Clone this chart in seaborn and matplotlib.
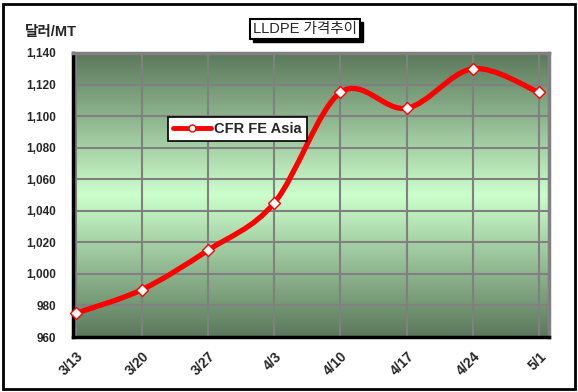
import numpy as np
import pandas as pd
import matplotlib
matplotlib.use("Agg")
import matplotlib.pyplot as plt
from matplotlib.path import Path
from matplotlib.patches import PathPatch, Rectangle
from matplotlib.lines import Line2D
from matplotlib.colors import LinearSegmentedColormap
import seaborn as sns

# 데이터
dates = ['3/13', '3/20', '3/27', '4/3', '4/10', '4/17', '4/24', '5/1']
prices = [975, 990, 1015, 1045, 1115, 1105, 1130, 1115]
series_name = 'CFR FE Asia'

df = pd.DataFrame({'pos': np.arange(len(dates)), 'date': dates, 'price': prices})

sns.set_theme(style='white')
plt.rcParams['font.family'] = ['Liberation Sans', 'Noto Sans CJK KR']

fig = plt.figure(figsize=(5.78, 3.92), dpi=100)
ax = fig.add_axes([73 / 578, 1 - 337 / 392, 476 / 578, 284 / 392])

# 배경 그라데이션 (위/아래 어둡고 가운데 밝게)
cmap = LinearSegmentedColormap.from_list('bg', ['#5b785b', '#ccffcc', '#5b785b'])
grad = np.linspace(0, 1, 256).reshape(-1, 1)
ax.imshow(grad, cmap=cmap, aspect='auto', extent=[0, 1, 0, 1],
          transform=ax.transAxes, zorder=0)

# 부드러운 선 (Catmull-Rom -> Bezier)
pts = df[['pos', 'price']].to_numpy(dtype=float)
ext = np.vstack([pts[0], pts, pts[-1]])
verts = [tuple(pts[0])]
codes = [Path.MOVETO]
for i in range(len(pts) - 1):
    p0, p1, p2, p3 = ext[i], ext[i + 1], ext[i + 2], ext[i + 3]
    c1 = p1 + (p2 - p0) / 6
    c2 = p2 - (p3 - p1) / 6
    verts += [tuple(c1), tuple(c2), tuple(p2)]
    codes += [Path.CURVE4] * 3
ax.add_patch(PathPatch(Path(verts, codes), fc='none', ec='#ff0000', lw=3.8,
                       zorder=3, capstyle='round', joinstyle='round'))

sns.lineplot(data=df, x='pos', y='price', ax=ax, linestyle='none', marker='D',
             markersize=6, markerfacecolor='white', markeredgecolor='#ff0000',
             markeredgewidth=1, zorder=4, clip_on=False)

ax.set_xlim(-0.04, 7.15)
ax.set_ylim(960, 1140)
ax.set_yticks(range(960, 1141, 20))
ax.set_yticklabels([f'{v:,}' for v in range(960, 1141, 20)],
                   fontsize=8.5, fontweight='bold')
ax.set_xticks(df['pos'])
ax.set_xticklabels(dates, rotation=45, ha='right', rotation_mode='anchor',
                   fontsize=10, fontweight='bold')
ax.set_xlabel('')
ax.set_ylabel('')

ax.grid(True, color='#808080', lw=1.5, zorder=1)
ax.set_axisbelow(True)
for s in ['top', 'right']:
    ax.spines[s].set_color('#808080')
    ax.spines[s].set_linewidth(2.5)
for s in ['left', 'bottom']:
    ax.spines[s].set_color('black')
    ax.spines[s].set_linewidth(2.5)
ax.tick_params(axis='y', direction='in', length=3, width=1.5, color='black', pad=12)
ax.tick_params(axis='x', direction='in', length=3, width=1.5, color='black', pad=9)

# 범례
handle = Line2D([], [], color='#ff0000', lw=3.5, marker='o', markersize=5,
                markerfacecolor='white', markeredgecolor='#ff0000')
leg = ax.legend([handle], [series_name], loc='upper left',
                bbox_to_anchor=(0.2, 0.775), borderaxespad=0, frameon=True,
                fancybox=False, prop={'weight': 'bold', 'size': 10.5},
                handlelength=2.6, handletextpad=0.2, borderpad=0.35)
leg.get_frame().set_edgecolor('black')
leg.get_frame().set_linewidth(1.2)
leg.get_frame().set_facecolor('white')
leg.get_frame().set_alpha(1)

# 제목 (그림자 박스)
title = fig.text(0.528, 0.926, 'LLDPE 가격추이', ha='center', va='center',
                 fontsize=10.5, zorder=3,
                 bbox=dict(boxstyle='square,pad=0.2', fc='white', ec='black', lw=1.5))
fig.canvas.draw()
bb = title.get_bbox_patch().get_window_extent().transformed(fig.transFigure.inverted())
fig.patches.append(Rectangle((bb.x0 + 3 / 578, bb.y0 - 3 / 392), bb.width, bb.height,
                             transform=fig.transFigure, fc='black', ec='black',
                             zorder=2))

fig.text(25 / 578, 1 - 32 / 392, '달러/MT', ha='left', va='center',
         fontsize=10.5, fontweight='bold')

# 외곽 테두리
fig.patches.append(Rectangle((3 / 578, 3 / 392), 572 / 578, 385 / 392,
                             transform=fig.transFigure, fill=False,
                             ec='black', lw=2))

fig.savefig('out.png', dpi=100)
